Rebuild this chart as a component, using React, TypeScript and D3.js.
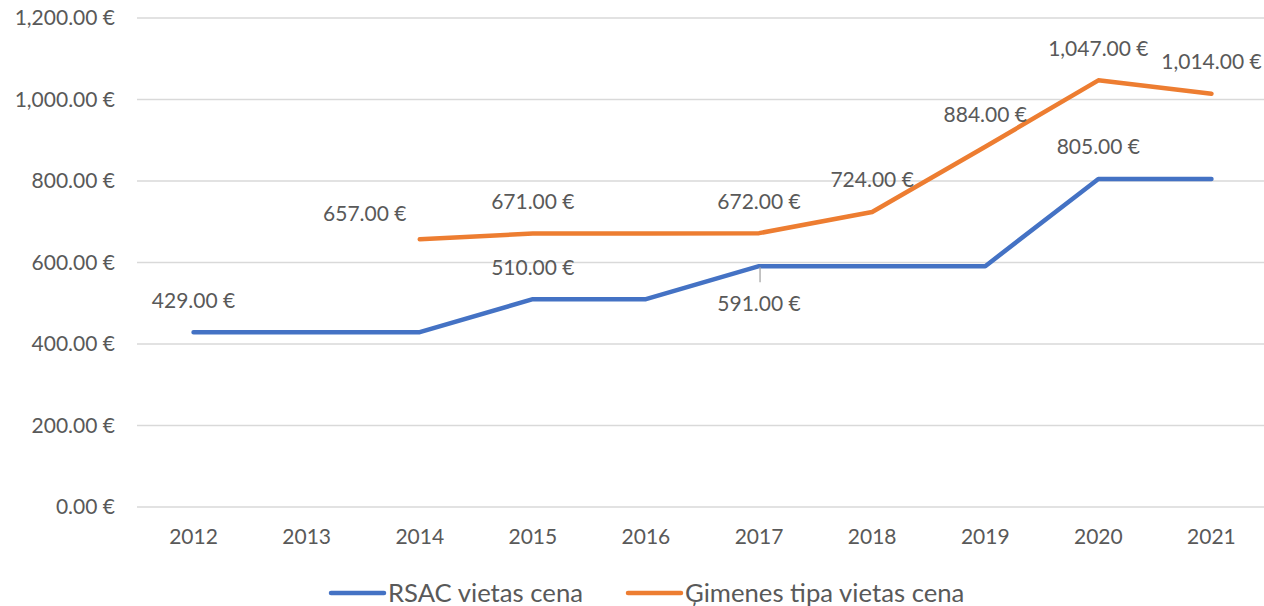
import React from "react";
import * as d3 from "d3";

const years = ["2012", "2013", "2014", "2015", "2016", "2017", "2018", "2019", "2020", "2021"];
const rsacValues: (number | null)[] = [429, 429, 429, 510, 510, 591, 591, 591, 805, 805];
const gimenesValues: (number | null)[] = [null, null, 657, 671, 671, 672, 724, 884, 1047, 1014];
const rsacLabelled = ["2012", "2015", "2017", "2020"];
const gimenesLabelled = ["2014", "2015", "2017", "2018", "2019", "2020", "2021"];
const yTicks = [0, 200, 400, 600, 800, 1000, 1200];
const seriesNames = ["RSAC vietas cena", "Ģimenes tipa vietas cena"];

const W = 1264;
const H = 606;
const BLUE = "#4472C4";
const ORANGE = "#ED7D31";
const TEXT = "#595959";
const FONT = "Lato, 'Open Sans', sans-serif";
const FS = 21;

const fmt = (v: number) => d3.format(",.2f")(v) + " €";

export default function App() {
  const x = d3.scaleBand<string>().domain(years).range([137, 1268]);
  const cx = (yr: string) => (x(yr) as number) + x.bandwidth() / 2;
  const y = d3.scaleLinear().domain([0, 1200]).range([507, 18]);

  const line = d3
    .line<number | null>()
    .defined((d) => d !== null)
    .x((_, i) => cx(years[i]))
    .y((d) => y(d as number));

  // label offsets (layout only)
  const labelOffset = (series: number, yr: string): [number, number] => {
    if (series === 1 && yr === "2014") return [-55, -26];
    if (series === 0 && yr === "2017") return [0, 37];
    return [0, -32];
  };

  const labels: { s: number; yr: string; v: number }[] = [];
  years.forEach((yr, i) => {
    if (rsacLabelled.includes(yr) && rsacValues[i] !== null) labels.push({ s: 0, yr, v: rsacValues[i] as number });
    if (gimenesLabelled.includes(yr) && gimenesValues[i] !== null) labels.push({ s: 1, yr, v: gimenesValues[i] as number });
  });

  return (
    <svg
      width={W}
      height={H}
      style={{ position: "absolute", left: 0, top: 0, background: "#fff" }}
      fontFamily={FONT}
    >
      {yTicks.map((t) => (
        <g key={t}>
          <line x1={137} x2={1268} y1={y(t)} y2={y(t)} stroke="#D9D9D9" strokeWidth={1.3} />
          <text x={115} y={y(t)} dy="0.35em" textAnchor="end" fontSize={FS} fill={TEXT}>
            {fmt(t)}
          </text>
        </g>
      ))}
      {years.map((yr) => (
        <text key={yr} x={cx(yr)} y={537} dy="0.35em" textAnchor="middle" fontSize={FS} fill={TEXT}>
          {yr}
        </text>
      ))}
      <path d={line(rsacValues) || ""} fill="none" stroke={BLUE} strokeWidth={4.5} strokeLinejoin="round" strokeLinecap="round" />
      <path d={line(gimenesValues) || ""} fill="none" stroke={ORANGE} strokeWidth={4.5} strokeLinejoin="round" strokeLinecap="round" />
      {labels.map((l) => {
        const [dx, dy] = labelOffset(l.s, l.yr);
        const px = cx(l.yr);
        const py = y(l.v);
        return (
          <g key={l.s + l.yr}>
            {dy > 0 && <line x1={px + 1} x2={px + 1} y1={py + 1} y2={py + dy - 21} stroke="#A6A6A6" strokeWidth={1.3} />}
            <text x={px + dx} y={py + dy} dy="0.35em" textAnchor="middle" fontSize={FS} fill={TEXT}>
              {fmt(l.v)}
            </text>
          </g>
        );
      })}
      <g>
        <line x1={331} x2={384} y1={593} y2={593} stroke={BLUE} strokeWidth={4.5} strokeLinecap="round" />
        <text x={388} y={593} dy="0.35em" fontSize={25.7} fill={TEXT}>
          {seriesNames[0]}
        </text>
        <line x1={628} x2={681} y1={593} y2={593} stroke={ORANGE} strokeWidth={4.5} strokeLinecap="round" />
        <text x={685} y={593} dy="0.35em" fontSize={25.7} fill={TEXT}>
          {seriesNames[1]}
        </text>
      </g>
    </svg>
  );
}
